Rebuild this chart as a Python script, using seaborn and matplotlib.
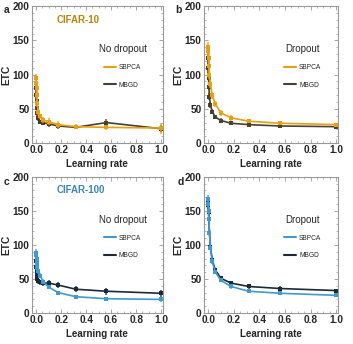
#set up modules
import numpy as np
import matplotlib
matplotlib.use("Agg")
import matplotlib.pyplot as plt
import seaborn as sns
from matplotlib.ticker import MultipleLocator

#learning rates (log spaced)
lr = [0.001, 0.00178, 0.00316, 0.00562, 0.01, 0.0178, 0.0316, 0.0562, 0.1, 0.178, 0.316, 0.562, 1.0]

#panel a: CIFAR-10, no dropout
a_sbpca = [95, 88, 80, 70, 58, 46, 39, 34, 31, 27, 24, 23, 22]
a_sbpca_err = [6, 6, 6, 5, 5, 5, 4, 4, 5, 5, 4, 4, 8]
a_mbgd = [80, 70, 62, 52, 44, 36, 31, 30, 28, 25, 23, 30, 21]
a_mbgd_err = [6, 5, 5, 5, 4, 4, 3, 3, 4, 4, 3, 5, 5]

#panel b: CIFAR-10, dropout
b_sbpca = [140, 134, 124, 112, 100, 86, 70, 57, 44, 37, 32, 29, 27]
b_sbpca_err = [8, 7, 7, 6, 6, 5, 5, 4, 4, 4, 3, 3, 3]
b_mbgd = [125, 110, 95, 82, 68, 56, 46, 38, 33, 29, 27, 25, 24]
b_mbgd_err = [8, 7, 6, 5, 5, 4, 4, 3, 3, 3, 3, 3, 3]

#panel c: CIFAR-100, no dropout
c_sbpca = [88, 85, 80, 74, 68, 62, 55, 46, 38, 30, 24, 21, 20]
c_sbpca_err = [6, 6, 6, 5, 5, 5, 4, 4, 3, 3, 3, 3, 4]
c_mbgd = [76, 68, 60, 55, 50, 47, 45, 44, 44, 41, 35, 32, 29]
c_mbgd_err = [6, 5, 5, 5, 4, 4, 4, 4, 4, 4, 4, 5, 5]

#panel d: CIFAR-100, dropout
d_sbpca = [168, 160, 150, 138, 118, 96, 76, 60, 48, 39, 32, 29, 26]
d_sbpca_err = [5, 5, 5, 5, 4, 4, 4, 3, 3, 3, 3, 3, 3]
d_mbgd = [165, 158, 148, 138, 118, 97, 78, 63, 51, 44, 39, 36, 33]
d_mbgd_err = [5, 5, 5, 5, 4, 4, 4, 3, 3, 3, 3, 3, 3]

panels = [
    ("a", a_sbpca, a_sbpca_err, a_mbgd, a_mbgd_err, "No dropout", "CIFAR-10"),
    ("b", b_sbpca, b_sbpca_err, b_mbgd, b_mbgd_err, "Dropout", None),
    ("c", c_sbpca, c_sbpca_err, c_mbgd, c_mbgd_err, "No dropout", "CIFAR-100"),
    ("d", d_sbpca, d_sbpca_err, d_mbgd, d_mbgd_err, "Dropout", None),
]

#colours
orange = "#E8A010"
brown = "#4A3F30"
blue = "#3E9AD0"
navy = "#1B2A38"
title_col = {"CIFAR-10": "#B8860B", "CIFAR-100": "#3A86B4"}

sns.set_style("ticks")
plt.rcParams["font.family"] = ["Liberation Sans", "DejaVu Sans"]
plt.rcParams["font.size"] = 8

fig = plt.figure(figsize=(3.53, 3.44), dpi=100)
positions = {
    "a": [0.090, 0.584, 0.372, 0.398],
    "b": [0.577, 0.584, 0.381, 0.398],
    "c": [0.090, 0.090, 0.372, 0.396],
    "d": [0.577, 0.090, 0.381, 0.396],
}
label_pos = {"a": (0.010, 0.97), "b": (0.498, 0.97), "c": (0.010, 0.47), "d": (0.502, 0.47)}

for name, sb, sb_err, mb, mb_err, cond, dset in panels:
    ax = fig.add_axes(positions[name])
    if name in ("a", "b"):
        c1, c2 = orange, brown
    else:
        c1, c2 = blue, navy

    for y, err, col, lab in [(mb, mb_err, c2, "MBGD"), (sb, sb_err, c1, "SBPCA")]:
        ax.errorbar(lr, y, yerr=err, fmt="none", ecolor=col, elinewidth=1.3, alpha=0.75)
        sns.lineplot(x=lr, y=y, ax=ax, color=col, lw=1.2, marker="s", markersize=2.5,
                     markeredgewidth=0, label=lab)

    ax.set_xlim(-0.035, 1.015)
    ax.set_ylim(0, 200)
    ax.xaxis.set_minor_locator(MultipleLocator(0.05))
    ax.yaxis.set_major_locator(MultipleLocator(50))
    ax.yaxis.set_minor_locator(MultipleLocator(10))
    ax.set_xticks([0, 0.2, 0.4, 0.6, 0.8, 1.0])
    ax.set_xticklabels(["0.0", "0.2", "0.4", "0.6", "0.8", "1.0"])
    ax.tick_params(which="both", direction="in", top=True, right=True, color="#999999",
                   labelsize=7.3, pad=1.5)
    ax.tick_params(which="major", length=3, width=0.6)
    ax.tick_params(which="minor", length=1.5, width=0.5)
    for lbl in ax.get_xticklabels() + ax.get_yticklabels():
        lbl.set_fontweight("bold")
    for sp in ax.spines.values():
        sp.set_color("#999999")
        sp.set_linewidth(0.8)

    ax.set_xlabel("Learning rate", fontsize=7, fontweight="bold", labelpad=3)
    ax.set_ylabel("ETC", fontsize=7.3, fontweight="bold", labelpad=1)

    h, l = ax.get_legend_handles_labels()
    order = [l.index("SBPCA"), l.index("MBGD")]
    leg = ax.legend([h[i] for i in order], [l[i] for i in order], title=cond,
                    loc="upper right", bbox_to_anchor=(0.90, 0.745), frameon=False,
                    borderpad=0, fontsize=4.8, title_fontsize=7, handlelength=1.8,
                    handletextpad=0.4, labelspacing=1.6)
    leg._legend_box.sep = 7
    for lh in leg.legend_handles:
        lh.set_marker("")
        lh.set_linewidth(1.5)

    if dset:
        ax.text(0.19, 0.90, dset, transform=ax.transAxes, color=title_col[dset],
                fontsize=7, fontweight="bold", va="center")

    fig.text(label_pos[name][0], label_pos[name][1], name, fontsize=7.5, fontweight="bold",
             va="center")

plt.savefig("out.png", dpi=100)
